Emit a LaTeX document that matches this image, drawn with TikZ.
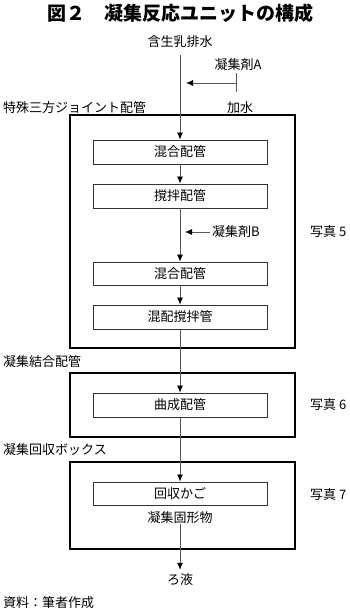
\documentclass[tikz,border=0pt]{standalone}
\usepackage{fontspec}
\setmainfont{Noto Sans CJK JP}
\usetikzlibrary{arrows.meta}
\begin{document}
\begin{tikzpicture}[x=1pt,y=-1pt,
  txt/.style={inner sep=0pt, font=\fontsize{13}{14}\selectfont},
  inbox/.style={draw=black!80, line width=0.9pt, minimum width=174pt, minimum height=24pt, inner sep=0pt, font=\fontsize{13}{14}\selectfont},
  outbox/.style={draw=black, line width=2pt, minimum width=225pt, inner sep=0pt},
  flow/.style={draw=black!65, line width=0.8pt, -{Latex[length=7pt,width=6pt,color=black]}},
  plain/.style={draw=black!65, line width=0.8pt}
]
\useasboundingbox (0,0) rectangle (350,613);
% title
\node[inner sep=0pt, font=\fontsize{19}{20}\selectfont\bfseries] (title) at (180,13) {図２　凝集反応ユニットの構成};
% top
\node[txt] (src) at (180,42) {含生乳排水};
\coordinate (srcend) at (180,55);
\node[txt] (agA) at (238,65) {凝集剤A};
\coordinate (aTop) at (236,73);
\coordinate (aJoin) at (236,83);
\coordinate (aBot) at (236,92);
\coordinate (aEnd) at (186,83);
\node[txt] (water) at (240,108) {加水};
\node[txt, anchor=west] (lab1) at (3,108) {特殊三方ジョイント配管};
% outer boxes
\node[outbox, minimum height=233pt] (o1) at (182.5,231.5) {};
\node[outbox, minimum height=64pt] (o2) at (182.5,405) {};
\node[outbox, minimum height=87pt] (o3) at (182.5,505.5) {};
% inner boxes
\node[inbox] (m1) at (180,152) {混合配管};
\node[inbox] (s1) at (180,196) {撹拌配管};
\node[inbox, minimum height=23pt] (m2) at (180,273.5) {混合配管};
\node[inbox] (k1) at (180,317) {混配撹拌管};
\node[inbox] (c1) at (180,405) {曲成配管};
\node[inbox, minimum height=23pt] (r1) at (180,493.5) {回収かご};
\node[txt] (solid) at (180,518) {凝集固形物};
\node[txt, inner sep=4pt] (filt) at (180,580) {ろ液};
% agent B
\coordinate (bStart) at (210,232);
\coordinate (bEnd) at (185,232);
\node[txt, anchor=west] (agB) at (212,232) {凝集剤B};
% side labels
\node[txt, anchor=west] (p5) at (310,232) {写真 5};
\node[txt, anchor=west] (p6) at (310,405) {写真 6};
\node[txt, anchor=west] (p7) at (310,495) {写真 7};
\node[txt, anchor=west] (lab2) at (3,362) {凝集結合配管};
\node[txt, anchor=west] (lab3) at (3,450) {凝集回収ボックス};
\node[txt, anchor=west] (note) at (3,603) {資料：筆者作成};
% connectors
\draw[flow] (srcend) -- (m1.north);
\draw[plain] (aTop) -- (aBot);
\draw[flow] (aJoin) -- (aEnd);
\draw[flow] (m1.south) -- (s1.north);
\draw[flow] (s1.south) -- (m2.north);
\draw[flow] (bStart) -- (bEnd);
\draw[flow] (m2.south) -- (k1.north);
\draw[flow] (k1.south) -- (c1.north);
\draw[flow] (c1.south) -- (r1.north);
\draw[flow] (solid.south) -- (filt.north);
\end{tikzpicture}
\end{document}
